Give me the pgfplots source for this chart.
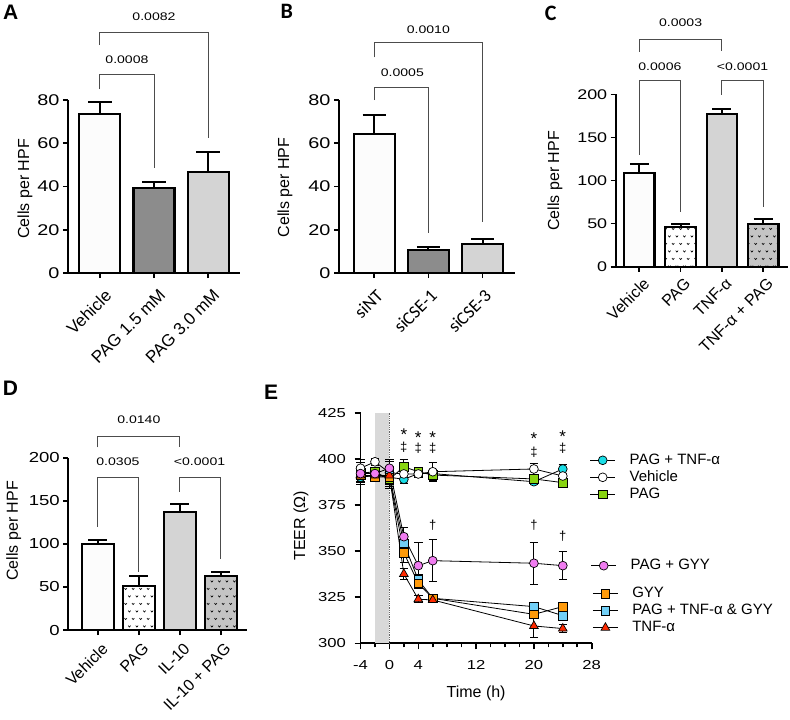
\documentclass[border=0pt]{standalone}
\usepackage{fontspec}
\setmainfont{Liberation Sans}
\newfontfamily\numfont{Liberation Sans}[FakeStretch=1.28]
\newfontfamily\calfont{Carlito}
\usepackage{pgfplots}
\usepackage{pgfplotstable}
\pgfplotsset{compat=1.18}
\usetikzlibrary{patterns}

\definecolor{barW}{HTML}{FCFCFC}
\definecolor{barDk}{HTML}{8C8C8C}
\definecolor{barLt}{HTML}{D4D4D4}
\definecolor{barMd}{HTML}{C4C4C4}
\definecolor{cyanE}{HTML}{1ADDE6}
\definecolor{greenE}{HTML}{88D411}
\definecolor{pinkE}{HTML}{F07CF0}
\definecolor{orangeE}{HTML}{FF9A0A}
\definecolor{blueE}{HTML}{72D0F7}
\definecolor{redE}{HTML}{FF2A00}
\definecolor{bandE}{HTML}{D9D9D9}

\pgfdeclarepatternformonly{vmarks}{\pgfpoint{-0.5bp}{-0.5bp}}{\pgfpoint{8bp}{15.5bp}}{\pgfpoint{7.5bp}{15bp}}{%
  \pgfsetlinewidth{0.6bp}%
  \pgfpathmoveto{\pgfpoint{0.7bp}{4.4bp}}\pgfpathlineto{\pgfpoint{1.9bp}{2.9bp}}\pgfpathlineto{\pgfpoint{3.1bp}{4.4bp}}%
  \pgfpathmoveto{\pgfpoint{4.45bp}{11.9bp}}\pgfpathlineto{\pgfpoint{5.65bp}{10.4bp}}\pgfpathlineto{\pgfpoint{6.85bp}{11.9bp}}%
  \pgfusepath{stroke}}

\pgfplotstableread{
t v e
-4 390 4
-2 391 2
0 390 4
2 388.9 2
4 392 2
6 392 2
20 387.6 1.5
24 394.5 2.5
}\tblPTNF
\pgfplotstableread{
t v e
-4 394.9 5
-2 398.4 2
0 392.5 6
2 391.8 3
4 391.8 2
6 393 5
20 394.5 3
24 390.7 3
}\tblVeh
\pgfplotstableread{
t v e
-4 392.2 6
-2 393 2
0 388.9 5
2 395.7 3.7
4 393 2
6 391.2 3
20 389.1 2
24 387.1 2
}\tblPAG
\pgfplotstableread{
t v e
-4 392 4
-2 392 2
0 394.9 5
2 357.8 5
4 342.1 12.4
6 344.8 11.3
20 343.4 11.4
24 342.1 7.7
}\tblPGYY
\pgfplotstableread{
t v e
-4 391 4
-2 390.3 2
0 390 5
2 349.1 5
4 332.5 3
6 324.4 1.5
20 315.7 1.5
24 319.9 2
}\tblGYY
\pgfplotstableread{
t v e
-4 391 4
-2 391 2
0 391 5
2 354.2 5
4 334.3 3
6 324.4 1.5
20 319.9 2
24 315 2
}\tblPTG
\pgfplotstableread{
t v e
-4 391 3
-2 391 2
0 391 4
2 337.6 3
4 323.9 2
6 323.5 1.5
20 309.4 6
24 308 2
}\tblTNF

\pgfplotsset{
  barax/.style={scale only axis, anchor=south west, axis lines=left,
    axis line style={-, line width=1.8bp},
    every tick/.style={black, line width=1.6bp},
    tick align=outside, major tick length=5bp, clip=false,
    /pgf/number format/assume math mode=true,
    every axis plot/.append style={line width=2.1bp},
    every axis y label/.style={rotate=90, anchor=center, font=\fontsize{16bp}{18bp}\selectfont},
  },
  barlab/.style n args={3}{xticklabel style={xshift=#1, yshift=#2, rotate=45, anchor=north east, inner sep=0pt, font=#3}},
  bar/.style n args={2}{ybar, bar width=#1, bar shift=0pt, draw=black, /tikz/line width=2.1bp,
    error bars/y dir=plus, error bars/y explicit,
    error bars/error bar style={line width=2bp, black},
    error bars/error mark options={rotate=90, line width=2bp, black, mark size=#2}},
  eline/.style={black, line width=0.8bp, mark size=4.4bp,
    error bars/y dir=both, error bars/y explicit,
    error bars/error bar style={line width=0.9bp, black},
    error bars/error mark options={rotate=90, line width=0.9bp, black, mark size=4.2bp}},
  legax/.style={at={(0bp,-720bp)}, anchor=south west, scale only axis, width=790bp, height=720bp,
    hide axis, xmin=0, xmax=1, ymin=0, ymax=1, legend cell align=left,
    legend style={anchor=west, draw=none, fill=none, inner sep=0pt, outer sep=0pt,
      row sep=3bp, column sep=14bp,
      nodes={inner sep=0pt, text height=11bp, text depth=3bp},
      font=\fontsize{15bp}{17bp}\selectfont},
    legend image code/.code={\draw[mark repeat=2, mark phase=2, line width=0.8bp] plot coordinates {(0bp,0bp) (12.5bp,0bp) (25bp,0bp)};}},
}
\tikzset{bracket/.style={draw=black!70, line width=0.9bp},
  pval/.style={font=\numfont\fontsize{11bp}{13bp}\selectfont, inner sep=0pt, anchor=center},
  sym/.style={font=\fontsize{13bp}{15bp}\selectfont, inner sep=0pt, anchor=base},
  star/.style={font=\fontsize{17bp}{19bp}\selectfont, inner sep=0pt, anchor=base}}

\begin{document}
\begin{tikzpicture}
\useasboundingbox (0,0) rectangle (790bp,-720bp);

% panel labels
\node[font=\bfseries\fontsize{21bp}{24bp}\selectfont] at (10.8bp,-12.5bp) {A};
\node[font=\calfont\bfseries\fontsize{22bp}{24bp}\selectfont] at (286.7bp,-11.7bp) {B};
\node[font=\calfont\bfseries\fontsize{22bp}{24bp}\selectfont] at (550.8bp,-13bp) {C};
\node[font=\bfseries\fontsize{21bp}{24bp}\selectfont] at (10.5bp,-388.3bp) {D};
\node[font=\bfseries\fontsize{21bp}{24bp}\selectfont] at (271bp,-392bp) {E};

% ---------------- A
\begin{axis}[barax, at={(68bp,-273bp)}, width=172bp, height=173bp,
  xmin=-0.59, xmax=2.59, ymin=0, ymax=80, ytick={0,20,40,60,80},
  xtick={0,1,2}, xticklabels={Vehicle,PAG 1.5 mM,PAG 3.0 mM},
  barlab={4bp}{-10bp}{\fontsize{17bp}{19bp}\selectfont},
  yticklabel style={font=\numfont\fontsize{15.5bp}{18bp}\selectfont},
  ylabel={Cells per HPF}, ylabel style={at={(axis description cs:-0.25,0.486)}}]
\addplot[bar={41bp}{11.7bp}, fill=barW] coordinates {(0,73.4) +- (0,5.5)};
\addplot[bar={41bp}{11.7bp}, fill=barDk] coordinates {(1,39.2) +- (0,3)};
\addplot[bar={41bp}{11.7bp}, fill=barLt] coordinates {(2,46.8) +- (0,9)};
\draw[bracket] (axis cs:0,85) -- (axis cs:0,92) -- (axis cs:1,92) -- (axis cs:1,48.6);
\node[pval] at (axis cs:0.5,98.5) {0.0008};
\draw[bracket] (axis cs:0,105.4) -- (axis cs:0,111.4) -- (axis cs:2,111.4) -- (axis cs:2,62.4);
\node[pval] at (axis cs:1,118.4) {0.0082};
\end{axis}

% ---------------- B
\begin{axis}[barax, at={(339bp,-273bp)}, width=176bp, height=173bp,
  xmin=-0.65, xmax=2.6, ymin=0, ymax=80, ytick={0,20,40,60,80},
  xtick={0,1,2}, xticklabels={siNT,siCSE-1,siCSE-3},
  barlab={1bp}{-10bp}{\calfont\fontsize{18bp}{20bp}\selectfont},
  yticklabel style={font=\numfont\fontsize{15.5bp}{18bp}\selectfont},
  ylabel={Cells per HPF}, ylabel style={at={(axis description cs:-0.307,0.494)}}]
\addplot[bar={40.7bp}{11.5bp}, fill=barW] coordinates {(0,64.1) +- (0,9)};
\addplot[bar={40.7bp}{11.5bp}, fill=barDk] coordinates {(1,10.6) +- (0,1.6)};
\addplot[bar={40.7bp}{11.5bp}, fill=barLt] coordinates {(2,13.3) +- (0,2.3)};
\draw[bracket] (axis cs:0,80) -- (axis cs:0,85.9) -- (axis cs:1,85.9) -- (axis cs:1,18.5);
\node[pval] at (axis cs:0.52,92.6) {0.0005};
\draw[bracket] (axis cs:0,99.7) -- (axis cs:0,106.5) -- (axis cs:2,106.5) -- (axis cs:2,23.7);
\node[pval] at (axis cs:1,112.7) {0.0010};
\end{axis}

% ---------------- C
\begin{axis}[barax, at={(615.7bp,-266.7bp)}, width=172.3bp, height=172.4bp,
  xmin=-0.57, xmax=3.6, ymin=0, ymax=200, ytick={0,50,100,150,200},
  xtick={0,1,2,3}, xticklabels={Vehicle,PAG,TNF-α,TNF-α + PAG},
  barlab={3bp}{-5bp}{\fontsize{16bp}{18bp}\selectfont},
  yticklabel style={font=\numfont\fontsize{14bp}{16bp}\selectfont},
  ylabel={Cells per HPF}, ylabel style={at={(axis description cs:-0.352,0.498)}}]
\addplot[bar={30.5bp}{9.5bp}, fill=barW] coordinates {(0,108.4) +- (0,10.8)};
\addplot[bar={30.5bp}{9.5bp}, fill=white, postaction={pattern=vmarks}] coordinates {(1,46.4) +- (0,3.2)};
\addplot[bar={30.5bp}{9.5bp}, fill=barLt] coordinates {(2,176.9) +- (0,6.5)};
\addplot[bar={30.5bp}{9.5bp}, fill=barMd, postaction={pattern=vmarks}] coordinates {(3,49.2) +- (0,6.2)};
\draw[bracket] (axis cs:0,249.5) -- (axis cs:0,263.1) -- (axis cs:2,263.1) -- (axis cs:2,250.3);
\node[pval] at (axis cs:1,282.5) {0.0003};
\draw[bracket] (axis cs:0,129.6) -- (axis cs:0,215.5) -- (axis cs:1,215.5) -- (axis cs:1,63.8);
\node[pval] at (axis cs:0.5,232.1) {0.0006};
\draw[bracket] (axis cs:2,199.3) -- (axis cs:2,215.5) -- (axis cs:3,215.5) -- (axis cs:3,69.6);
\node[pval] at (axis cs:2.5,232.1) {<0.0001};
\end{axis}

% ---------------- D
\begin{axis}[barax, at={(68.3bp,-630bp)}, width=178.4bp, height=172.3bp,
  xmin=-0.72, xmax=3.63, ymin=0, ymax=200, ytick={0,50,100,150,200},
  xtick={0,1,2,3}, xticklabels={Vehicle,PAG,IL-10,IL-10 + PAG},
  barlab={3bp}{-7bp}{\fontsize{16bp}{18bp}\selectfont},
  yticklabel style={font=\numfont\fontsize{14.5bp}{16bp}\selectfont},
  ylabel={Cells per HPF}, ylabel style={at={(axis description cs:-0.306,0.576)}}]
\addplot[bar={31.7bp}{9.5bp}, fill=barW] coordinates {(0,99.5) +- (0,4.9)};
\addplot[bar={31.7bp}{9.5bp}, fill=white, postaction={pattern=vmarks}] coordinates {(1,51.4) +- (0,11.3)};
\addplot[bar={31.7bp}{9.5bp}, fill=barLt] coordinates {(2,136.6) +- (0,9.3)};
\addplot[bar={31.7bp}{9.5bp}, fill=barMd, postaction={pattern=vmarks}] coordinates {(3,63) +- (0,4.7)};
\draw[bracket] (axis cs:0,212) -- (axis cs:0,225.1) -- (axis cs:2,225.1) -- (axis cs:2,212);
\node[pval] at (axis cs:1,244.5) {0.0140};
\draw[bracket] (axis cs:0,119.9) -- (axis cs:0,177.2) -- (axis cs:1,177.2) -- (axis cs:1,67.7);
\node[pval] at (axis cs:0.49,195.3) {0.0305};
\draw[bracket] (axis cs:2,160.5) -- (axis cs:2,177.2) -- (axis cs:3,177.2) -- (axis cs:3,82);
\node[pval] at (axis cs:2.48,195.3) {<0.0001};
\end{axis}

% ---------------- E
\begin{axis}[scale only axis, anchor=south west, at={(360.5bp,-643.3bp)}, width=231.2bp, height=230.6bp,
  xmin=-4, xmax=28, ymin=300, ymax=425, axis lines=left,
  axis line style={-, line width=1.8bp}, tick align=outside,
  every tick/.style={black, line width=1.6bp},
  xtick={-4,0,4,12,20,28}, minor xtick={-2,2,6,8,10,14,16,18,22,24,26},
  ytick={300,325,350,375,400,425},
  major tick length=6bp, minor tick length=4bp, clip=false,
  /pgf/number format/assume math mode=true,
  ticklabel style={font=\numfont\fontsize{13bp}{15bp}\selectfont},
  xticklabel style={yshift=-8bp}, yticklabel style={xshift=-5bp},
  xlabel={Time (h)}, ylabel={TEER (Ω)},
  every axis x label/.style={at={(axis description cs:0.5,-0.217)}, anchor=center, font=\fontsize{16bp}{18bp}\selectfont},
  every axis y label/.style={at={(axis description cs:-0.257,0.51)}, rotate=90, anchor=center, font=\fontsize{16bp}{18bp}\selectfont}]
\addplot[fill=bandE, draw=none, forget plot] coordinates {(-2,300) (0,300) (0,425) (-2,425)} -- cycle;
\addplot[densely dotted, black!60, line width=0.8bp, forget plot] coordinates {(0,300) (0,425)};
\addplot[eline, mark=*, mark options={draw=black, fill=cyanE, line width=0.7bp, solid}] table[x=t, y=v, y error=e] {\tblPTNF};
\addplot[eline, mark=square*, mark options={draw=black, fill=greenE, line width=0.7bp, solid}] table[x=t, y=v, y error=e] {\tblPAG};
\addplot[eline, mark=*, mark options={draw=black, fill=white, line width=0.7bp, solid}] table[x=t, y=v, y error=e] {\tblVeh};
\addplot[eline, mark=square*, mark options={draw=black, fill=blueE, line width=0.7bp, solid}] table[x=t, y=v, y error=e] {\tblPTG};
\addplot[eline, mark=square*, mark options={draw=black, fill=orangeE, line width=0.7bp, solid}] table[x=t, y=v, y error=e] {\tblGYY};
\addplot[eline, mark=triangle*, mark size=5bp, mark options={draw=black, fill=redE, line width=0.7bp, solid}] table[x=t, y=v, y error=e] {\tblTNF};
\addplot[eline, mark=*, mark options={draw=black, fill=pinkE, line width=0.7bp, solid}] table[x=t, y=v, y error=e] {\tblPGYY};
% significance symbols
\node[star] at (axis cs:2,410.2) {*};
\node[star] at (axis cs:4,408.4) {*};
\node[star] at (axis cs:6,408.4) {*};
\node[star] at (axis cs:20,407.5) {*};
\node[star] at (axis cs:24,409) {*};
\node[sym] at (axis cs:2,404.2) {‡};
\node[sym] at (axis cs:4,403.7) {‡};
\node[sym] at (axis cs:6,403.7) {‡};
\node[sym] at (axis cs:20,401) {‡};
\node[sym] at (axis cs:24,403.2) {‡};
\node[sym] at (axis cs:6,361.6) {†};
\node[sym] at (axis cs:20,361.6) {†};
\node[sym] at (axis cs:24,355.8) {†};
\end{axis}

% legends of E
\begin{axis}[legax, legend style={at={(0.74658,0.33708)}}]
\addlegendimage{black, mark=*, mark size=4.4bp, mark options={draw=black, fill=cyanE, line width=0.7bp}}
\addlegendentry{PAG + TNF-α}
\addlegendimage{black, mark=*, mark size=4.4bp, mark options={draw=black, fill=white, line width=0.7bp}}
\addlegendentry{Vehicle}
\addlegendimage{black, mark=square*, mark size=4.4bp, mark options={draw=black, fill=greenE, line width=0.7bp}}
\addlegendentry{PAG}
\end{axis}
\begin{axis}[legax, legend style={at={(0.74785,0.21431)}}]
\addlegendimage{black, mark=*, mark size=4.4bp, mark options={draw=black, fill=pinkE, line width=0.7bp}}
\addlegendentry{PAG + GYY}
\end{axis}
\begin{axis}[legax, legend style={at={(0.75,0.15181)}}]
\addlegendimage{black, mark=square*, mark size=4.4bp, mark options={draw=black, fill=orangeE, line width=0.7bp}}
\addlegendentry{GYY}
\addlegendimage{black, mark=square*, mark size=4.4bp, mark options={draw=black, fill=blueE, line width=0.7bp}}
\addlegendentry{PAG + TNF-α \& GYY}
\addlegendimage{black, mark=triangle*, mark size=5bp, mark options={draw=black, fill=redE, line width=0.7bp}}
\addlegendentry{TNF-α}
\end{axis}
\end{tikzpicture}
\end{document}
